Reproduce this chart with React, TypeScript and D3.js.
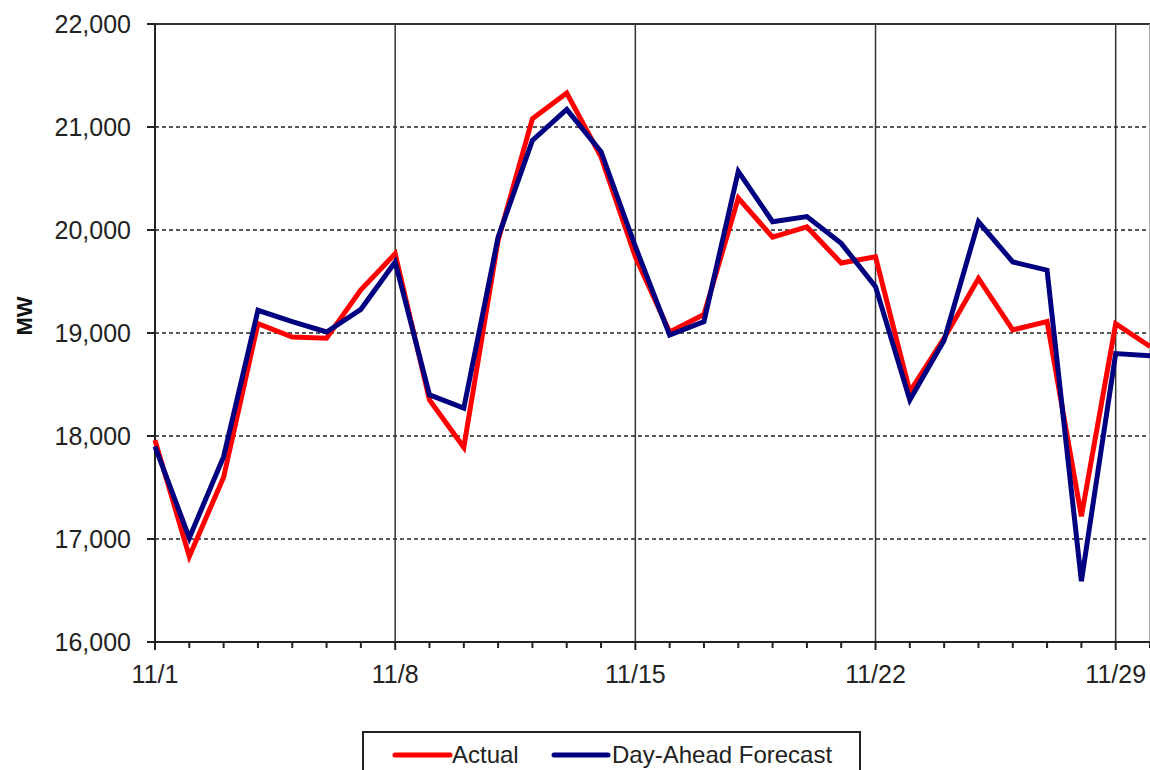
import React from "react";
import * as d3 from "d3";

const days: number[] = d3.range(1, 31);
const actual: number[] = [17960, 16830, 17600, 19090, 18960, 18950, 19420, 19770, 18350, 17890, 19900, 21080, 21330, 20710, 19740, 19010, 19180, 20310, 19930, 20030, 19680, 19740, 18430, 18950, 19530, 19030, 19110, 17220, 19090, 18870];
const forecast: number[] = [17900, 17010, 17800, 19220, 19110, 19010, 19230, 19690, 18400, 18270, 19930, 20870, 21170, 20760, 19840, 18980, 19110, 20570, 20080, 20130, 19870, 19450, 18350, 18930, 20080, 19690, 19610, 16590, 18800, 18780];
const yTicks: number[] = [16000, 17000, 18000, 19000, 20000, 21000, 22000];
const xTickDays: number[] = [1, 8, 15, 22, 29];
const seriesNames: string[] = ["Actual", "Day-Ahead Forecast"];
const seriesColors: string[] = ["#ff0000", "#000080"];

const W = 1150;
const H = 770;
const left = 155;
const right = 1150;
const top = 24;
const bottom = 642;

export default function App() {
  const date = (d: number) => new Date(2010, 10, d);
  const x = d3.scaleTime().domain([date(1), date(30)]).range([left, right]);
  const y = d3.scaleLinear().domain([16000, 22000]).range([bottom, top]);
  const line = d3
    .line<[number, number]>()
    .x((p) => x(date(p[0])))
    .y((p) => y(p[1]));
  const fmt = d3.format(",");
  const series = [actual, forecast];
  const font = "'Liberation Sans', Arial, sans-serif";

  return (
    <svg
      width={W}
      height={H}
      style={{ position: "absolute", left: 0, top: 0, background: "#fff" }}
      fontFamily={font}
    >
      {/* horizontal dashed gridlines */}
      {yTicks.slice(1, -1).map((t) => (
        <line key={"hg" + t} x1={left} x2={right} y1={y(t)} y2={y(t)} stroke="#222" strokeWidth={1.5} strokeDasharray="4,3" />
      ))}
      {/* top border */}
      <line x1={left} x2={right} y1={y(22000)} y2={y(22000)} stroke="#333" strokeWidth={2} />
      {/* right border */}
      <line x1={right - 0.5} x2={right - 0.5} y1={top} y2={bottom} stroke="#aaa" strokeWidth={1} />
      {/* vertical gridlines */}
      {xTickDays.slice(1).map((d) => (
        <line key={"vg" + d} x1={x(date(d))} x2={x(date(d))} y1={top} y2={bottom} stroke="#333" strokeWidth={1.5} />
      ))}
      {/* y axis */}
      <line x1={left} x2={left} y1={top} y2={bottom} stroke="#222" strokeWidth={2} />
      {yTicks.map((t) => (
        <g key={"yt" + t}>
          <line x1={left - 8} x2={left} y1={y(t)} y2={y(t)} stroke="#222" strokeWidth={2} />
          <text x={131} y={y(t)} dy="0.36em" textAnchor="end" fontSize={25} fill="#222">
            {fmt(t)}
          </text>
        </g>
      ))}
      {/* x axis */}
      <line x1={left} x2={right} y1={bottom} y2={bottom} stroke="#222" strokeWidth={2} />
      {days.map((d) => (
        <line key={"xt" + d} x1={x(date(d))} x2={x(date(d))} y1={bottom} y2={bottom + (xTickDays.includes(d) ? 8 : 6)} stroke="#222" strokeWidth={2} />
      ))}
      {xTickDays.map((d) => (
        <text key={"xl" + d} x={x(date(d))} y={683} textAnchor="middle" fontSize={25} fill="#222">
          {d3.timeFormat("%-m/%-d")(date(d))}
        </text>
      ))}
      {/* y axis title */}
      <text transform="translate(32,316) rotate(-90)" textAnchor="middle" fontSize={22} fontWeight="bold" fill="#111">
        MW
      </text>
      {/* series */}
      {series.map((s, i) => (
        <path
          key={"s" + i}
          d={line(days.map((d, j) => [d, s[j]] as [number, number])) || ""}
          fill="none"
          stroke={seriesColors[i]}
          strokeWidth={5}
          strokeLinejoin="miter"
        />
      ))}
      {/* legend */}
      <rect x={363} y={732} width={497} height={60} fill="#fff" stroke="#222" strokeWidth={2} />
      <line x1={395} x2={450} y1={755} y2={755} stroke={seriesColors[0]} strokeWidth={5} strokeLinecap="round" />
      <text x={452} y={763} fontSize={24} fill="#222">{seriesNames[0]}</text>
      <line x1={554} x2={608} y1={755} y2={755} stroke={seriesColors[1]} strokeWidth={5} strokeLinecap="round" />
      <text x={612} y={763} fontSize={24} fill="#222">{seriesNames[1]}</text>
    </svg>
  );
}
